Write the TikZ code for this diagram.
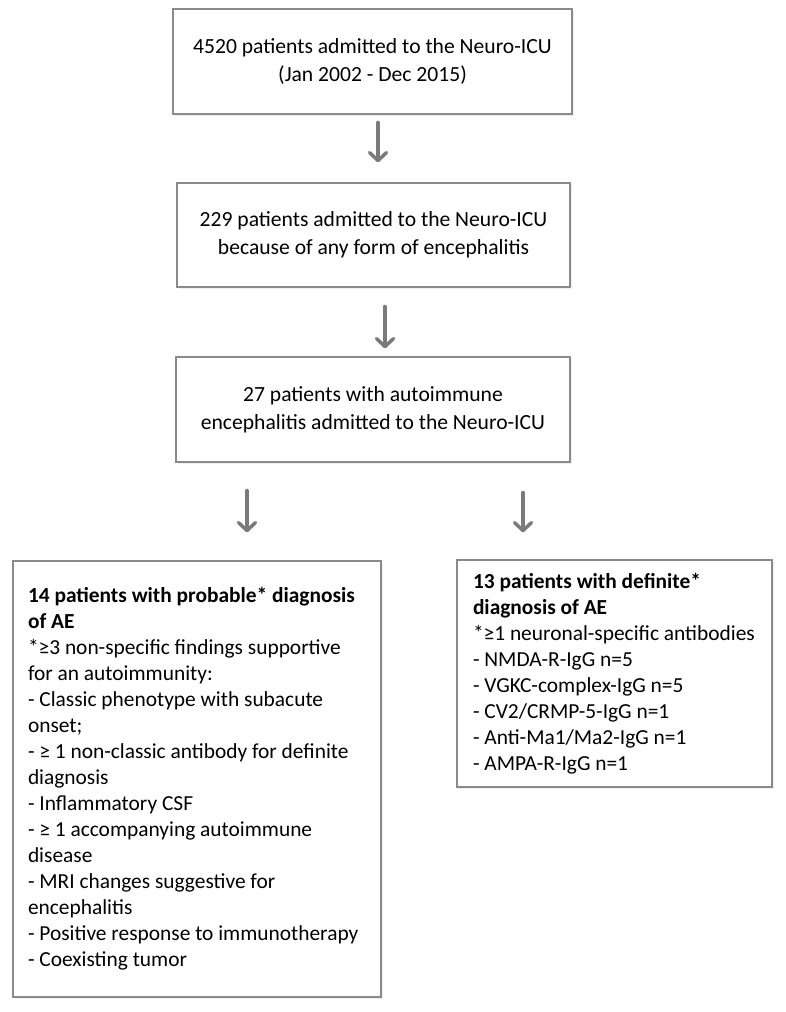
\documentclass[tikz,border=0pt]{standalone}
\usepackage{fontspec}
\setmainfont{Carlito}
\usetikzlibrary{arrows.meta,shadows}
\definecolor{boxgray}{HTML}{8A8A8A}
\definecolor{arrgray}{HTML}{7A7A7A}
\tikzset{
  box/.style={draw=boxgray, line width=1.4pt, fill=white, rectangle, inner sep=0pt,
    drop shadow={opacity=0.12, shadow xshift=1.5pt, shadow yshift=-2pt}},
  cbox/.style={box, align=center, font=\fontsize{21.6}{28}\selectfont},
  lbox/.style={box, align=flush left, font=\fontsize{21.4}{26}\selectfont},
  arr/.style={draw=arrgray, line width=4pt, line cap=round,
    -{Straight Barb[length=8pt,width=17pt,line width=3.5pt,round]}}
}
\begin{document}
\begin{tikzpicture}[x=1pt,y=-1pt]
\useasboundingbox (0,0) rectangle (786,1012);
\fill[white] (0,0) rectangle (786,1012);

\node[cbox, minimum width=399pt, minimum height=105pt] (b1) at (372.5,61.5)
  {4520 patients admitted to the Neuro-ICU\\(Jan 2002 - Dec 2015)};
\node[cbox, minimum width=393pt, minimum height=104pt] (b2) at (373.5,235)
  {229 patients admitted to the Neuro-ICU\\because of any form of encephalitis};
\node[cbox, minimum width=394pt, minimum height=105pt] (b3) at (373,409.5)
  {27 patients with autoimmune\\encephalitis admitted to the Neuro-ICU};
\node[lbox, minimum width=368pt, minimum height=436pt, text width=338pt] (bl) at (197,779)
  {\textbf{14 patients with probable* diagnosis}\\
   \textbf{of AE}\\
   {}*≥3 non-specific findings supportive\\
   for an autoimmunity:\\
   - Classic phenotype with subacute\\
   onset;\\
   - ≥ 1 non-classic antibody for definite\\
   diagnosis\\
   - Inflammatory CSF\\
   - ≥ 1 accompanying autoimmune\\
   disease\\
   - MRI changes suggestive for\\
   encephalitis\\
   - Positive response to immunotherapy\\
   - Coexisting tumor};
\node[lbox, minimum width=315pt, minimum height=227pt, text width=283pt] (br) at (614.5,673.5)
  {\textbf{13 patients with definite*}\\
   \textbf{diagnosis of AE}\\
   {}*≥1 neuronal-specific antibodies\\
   - NMDA-R-IgG n=5\\
   - VGKC-complex-IgG n=5\\
   - CV2/CRMP-5-IgG n=1\\
   - Anti-Ma1/Ma2-IgG n=1\\
   - AMPA-R-IgG n=1};

\draw[arr, shorten <=8pt, shorten >=20pt] ([xshift=5.5pt]b1.south) -- ([xshift=5.5pt]b1.south |- b2.north);
\draw[arr, shorten <=19pt, shorten >=8pt] ([xshift=11.5pt]b2.south) -- ([xshift=11.5pt]b2.south |- b3.north);
\draw[arr, shorten <=28pt, shorten >=28pt] (bl.north |- b3.south) ++(50,0) coordinate (l3s) (l3s) -- (l3s |- bl.north);
\draw[arr, shorten <=30pt, shorten >=27pt] (br.north |- b3.south) ++(-91.5,0) coordinate (r3s) (r3s) -- (r3s |- br.north);
\end{tikzpicture}
\end{document}
